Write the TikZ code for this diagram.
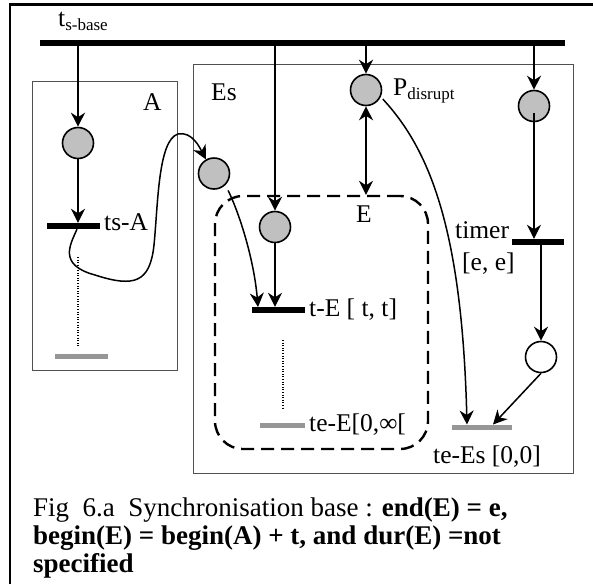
\documentclass[tikz,border=0pt]{standalone}
\usepackage{fontspec}
\setmainfont{Liberation Serif}
\usetikzlibrary{arrows.meta,calc}
\definecolor{placegray}{RGB}{192,192,192}
\definecolor{bargray}{RGB}{150,150,150}
\definecolor{boxgray}{RGB}{80,80,80}
\begin{document}
\begin{tikzpicture}[x=1pt,y=-1pt,
  place/.style={circle,draw,line width=1.6pt,fill=placegray,minimum size=31pt,inner sep=0pt},
  emptyplace/.style={circle,draw,line width=1.6pt,fill=white,minimum size=31pt,inner sep=0pt},
  trans/.style={rectangle,fill=black,minimum height=6pt,inner sep=0pt},
  endbar/.style={rectangle,fill=bargray,minimum height=5pt,inner sep=0pt},
  arcx/.style={line width=1.5pt,-{Stealth[length=14pt,width=14pt,inset=4.5pt]}},
  darcx/.style={line width=1.5pt,{Stealth[length=14pt,width=14pt,inset=4.5pt]}-{Stealth[length=14pt,width=14pt,inset=4.5pt]}},
  boxframe/.style={draw=boxgray,line width=0.9pt,rectangle,inner sep=0pt},
  ebox/.style={draw,line width=2.4pt,dash pattern=on 13pt off 7pt,rounded corners=28pt,rectangle,inner sep=0pt},
  dotline/.style={line width=1.2pt,dash pattern=on 1pt off 1.6pt},
  lbl/.style={anchor=base west,inner sep=0pt,font=\fontsize{25.5}{28}\selectfont},
  captxt/.style={anchor=base west,inner sep=0pt,font=\fontsize{27}{28}\selectfont}]
\useasboundingbox (0,0) rectangle (593,584);
\fill[white] (0,0) rectangle (593,584);
% outer frame (top and left only)
\draw[line width=2.8pt] (10,584) -- (10,4.5) -- (593,4.5);
% boxes
\node[boxframe,minimum width=145pt,minimum height=289pt] (boxA) at (104.5,225.5) {};
\node[boxframe,minimum width=380pt,minimum height=409pt] (boxEs) at (383,268.5) {};
\node[ebox,minimum width=213pt,minimum height=253pt] (boxE) at (321.5,322.5) {};
% base transition
\node[trans,minimum width=525pt] (tsbase) at (302.5,43) {};
% places
\node[place] (pA) at (78,143) {};
\node[place] (pEs) at (214,173.5) {};
\node[place] (pE) at (275,227) {};
\node[place] (pD) at (366,90) {};
\node[place] (pT) at (534,106) {};
\node[emptyplace] (pO) at (541,357) {};
% transitions
\node[trans,minimum width=53pt] (tsA) at (73.5,226) {};
\node[trans,minimum width=53pt] (tE) at (278.5,310) {};
\node[trans,minimum width=52pt] (timer) at (538,242) {};
\node[endbar,minimum width=53pt] (gA) at (81.5,356) {};
\node[endbar,minimum width=45pt] (gE) at (282.5,425) {};
\node[endbar,minimum width=60pt] (gEs) at (482,427) {};
\coordinate (tEL) at (258,307);
\coordinate (gEsL) at (467,424.5);
\coordinate (gEsR) at (493,424.5);
\coordinate (pTin) at (534,113);
% labels
\node[lbl] (ltsbase) at (58,26) {t\raisebox{-4pt}{\fontsize{17}{17}\selectfont s-base}};
\node[lbl] (lA) at (143,110) {A};
\node[lbl] (lEs) at (211,100) {Es};
\node[lbl] (lD) at (393,95) {P\raisebox{-4pt}{\fontsize{17}{17}\selectfont disrupt}};
\node[lbl,anchor=base] (lE) at (364,222) {E};
\node[lbl] (ltsA) at (104,230) {ts-A};
\node[lbl] (ltE) at (309,316) {t-E [ t, t]};
\node[lbl] (lgE) at (309,431) {te-E[0,∞[};
\node[lbl] (ltimer) at (455,238) {timer};
\node[lbl] (lee) at (462,270) {[e, e]};
\node[lbl] (lgEs) at (433,463) {te-Es [0,0]};
% connectors
\draw[arcx] (tsbase.south -| pA) -- (pA.north);
\draw[arcx] (pA.south) -- (tsA.north -| pA);
\draw[arcx] (tsbase.south -| pE) -- (pE.north);
\draw[arcx] (pE.south) -- (tE.north -| pE);
\draw[arcx] (tsbase.south -| pD) -- (pD.north);
\draw[arcx] (tsbase.south -| pT) -- (pT.north);
\draw[arcx] (pTin) -- (timer.north -| pT);
\draw[arcx] (timer.south -| pO) -- (pO.north);
\draw[arcx] (pO.south) -- (gEsR);
\draw[darcx] (pD.south) -- (boxE.north -| pD);
\draw[arcx,shorten <=3pt] (pD.-25) .. controls (430,150) and (462,230) .. (gEsL);
\draw[arcx,shorten <=6pt] (pEs.-45) .. controls (240,215) and (254,260) .. (tEL);
\draw[arcx] ($(tsA.south)+(3.5,0)$) .. controls (70,245) and (58,265) .. (95,275)
   .. controls (135,288) and (150,282) .. (154,245)
   .. controls (158,205) and (158,140) .. (178,134)
   .. controls (192,131) and (200,148) .. (pEs.120);
% dotted
\draw[dotline] (78,257) -- (78,346);
\draw[dotline] (283,340) -- (283,410);
% caption
\node[captxt] (cap1) at (33,516) {Fig\ \ 6.a\ \ Synchronisation base : \textbf{end(E) = e,}};
\node[captxt] (cap2) at (33,544) {\textbf{begin(E) = begin(A) + t, and dur(E) =not}};
\node[captxt] (cap3) at (33,572) {\textbf{specified}};
\end{tikzpicture}
\end{document}
